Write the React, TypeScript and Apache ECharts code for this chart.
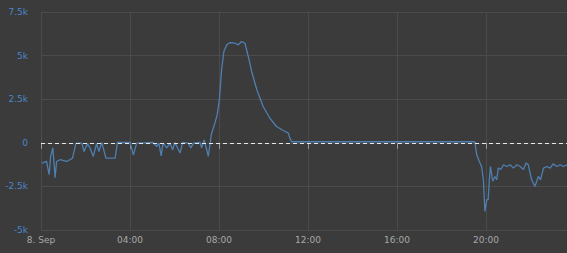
import React, { useEffect, useRef } from "react";
import * as echarts from "echarts";

const times: string[] = [
  "00:02","00:15","00:22","00:26","00:32","00:38","00:42","00:51","01:09","01:18","01:25","01:34",
  "01:50","01:56","02:05","02:12","02:21","02:30","02:36","02:44","02:55","03:20","03:26","04:00",
  "04:09","04:18","05:02","05:12","05:18","05:24","05:29","05:39","05:48","05:55","06:01","06:15",
  "06:22","06:37","06:44","06:51","07:09","07:13","07:20","07:27","07:31","07:40","07:49","07:55",
  "08:01","08:07","08:13","08:21","08:30","08:43","08:52","09:01","09:10","09:19","09:28","09:42",
  "09:59","10:17","10:35","10:53","11:07","11:11","11:16","13:00","15:00","17:00","19:00","19:30",
  "19:35","19:42","19:48","19:53","19:57","20:02","20:06","20:09","20:12","20:18","20:24","20:29",
  "20:33","20:40","20:47","20:56","21:05","21:14","21:23","21:32","21:41","21:48","21:54","22:03",
  "22:12","22:21","22:27","22:35","22:44","22:53","23:01","23:11","23:20","23:28","23:38",
];

const values: number[] = [
  -1160,-1070,-1830,-780,-290,-2000,-1070,-970,-1070,-970,-880,-30,
  -20,-500,-50,-290,-780,-50,-500,20,-880,-880,20,20,
  -690,-20,20,-210,-20,-745,-20,-290,-20,-400,20,-590,
  20,-20,-290,-20,20,-290,170,-400,-780,550,1130,1600,
  2460,4180,5230,5620,5750,5710,5620,5810,5710,4950,4090,3040,
  2080,1420,935,705,555,270,60,60,60,60,60,60,
  -690,-1070,-1360,-2120,-3940,-3270,-3250,-2120,-1360,-2200,-1930,-2120,
  -1450,-1530,-1260,-1360,-1260,-1450,-1260,-1360,-1530,-1160,-1260,-2120,
  -2500,-1930,-2120,-1450,-1360,-1450,-1210,-1360,-1260,-1360,-1260,
];

const xTickLabels: string[] = ["8. Sep", "04:00", "08:00", "12:00", "16:00", "20:00"];
const yTickLabels: Record<string, string> = {
  "-5000": "-5k", "-2500": "-2.5k", "0": "0", "2500": "2.5k", "5000": "5k", "7500": "7.5k",
};

const toHours = (t: string) => {
  const [h, m] = t.split(":").map(Number);
  return h + m / 60;
};

export default function App() {
  const ref = useRef<HTMLDivElement>(null);
  useEffect(() => {
    if (!ref.current) return;
    const chart = echarts.init(ref.current, undefined, { renderer: "svg" });
    const data = times.map((t, i) => [toHours(t), values[i]]);
    chart.setOption({
      animation: false,
      backgroundColor: "#3b3b3b",
      grid: { left: 41, right: 0, top: 12, bottom: 23 },
      xAxis: {
        type: "value",
        min: 0,
        max: 23.64,
        interval: 4,
        axisLine: { show: false },
        axisTick: { show: true, length: 6, lineStyle: { color: "#9a9a9a" } },
        splitLine: { show: true, lineStyle: { color: "#4b4b4b", width: 1 } },
        axisLabel: {
          color: "#a8a8a8",
          fontSize: 9,
          fontFamily: "DejaVu Sans",
          margin: 5,
          formatter: (v: number) => xTickLabels[Math.round(v / 4)] ?? "",
          showMaxLabel: false,
        },
      },
      yAxis: {
        type: "value",
        min: -5000,
        max: 7500,
        interval: 2500,
        axisLine: { show: false },
        axisTick: { show: false },
        splitLine: { show: true, lineStyle: { color: "#4b4b4b", width: 1 } },
        axisLabel: {
          color: "#4a86c8",
          fontSize: 9,
          fontFamily: "DejaVu Sans",
          margin: 13,
          formatter: (v: number) => yTickLabels[String(v)] ?? String(v),
        },
      },
      series: [
        {
          type: "line",
          data,
          showSymbol: false,
          symbol: "none",
          lineStyle: { color: "#4f7fb0", width: 1.3 },
          markLine: {
            silent: true,
            symbol: "none",
            label: { show: false },
            lineStyle: { color: "#e8e8e8", type: [4, 3], width: 1 },
            data: [{ yAxis: 0 }],
          },
        },
      ],
    });
    return () => chart.dispose();
  }, []);
  return (
    <div
      ref={ref}
      style={{ width: 567, height: 253, position: "fixed", left: 0, top: 0 }}
    />
  );
}
